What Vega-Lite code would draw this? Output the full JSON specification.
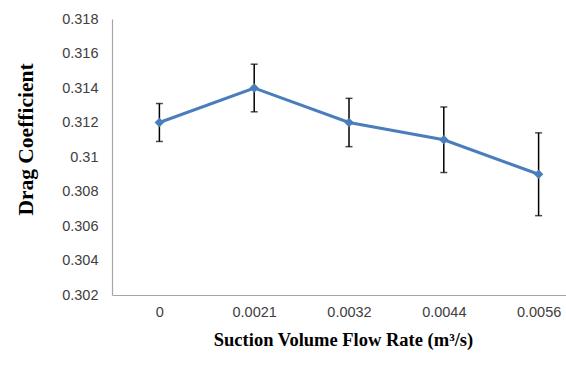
{
  "$schema": "https://vega.github.io/schema/vega-lite/v6.json",
  "autosize": "none",
  "padding": {"left": 112, "top": 19, "right": 0, "bottom": 72},
  "width": 474,
  "height": 276,
  "background": "white",
  "config": {
    "view": {"stroke": null},
    "axis": {
      "labelFont": "Liberation Sans", "labelColor": "#404040",
      "labelOverlap": false, "labelBound": false, "ticks": false,
      "domainColor": "#a6a6a6", "domainWidth": 1.2, "grid": false,
      "titleFont": "Liberation Serif", "titleFontWeight": "bold", "titleColor": "#000000"
    }
  },
  "data": {
    "values": [
      {"rate": "0", "cd": 0.312, "lo": 0.3109, "hi": 0.3131},
      {"rate": "0.0021", "cd": 0.314, "lo": 0.31262, "hi": 0.31538},
      {"rate": "0.0032", "cd": 0.312, "lo": 0.3106, "hi": 0.3134},
      {"rate": "0.0044", "cd": 0.311, "lo": 0.3091, "hi": 0.3129},
      {"rate": "0.0056", "cd": 0.309, "lo": 0.3066, "hi": 0.3114}
    ]
  },
  "encoding": {
    "x": {
      "field": "rate", "type": "ordinal", "sort": null,
      "scale": {"type": "point", "padding": 0.5},
      "axis": {
        "title": "Suction Volume Flow Rate (m³/s)", "labelOverlap": false,
        "labelAngle": 0, "labelFontSize": 14.5, "labelPadding": 10,
        "titleFontSize": 18.5, "titlePadding": 12, "titleX": 231
      }
    }
  },
  "layer": [
    {
      "mark": {"type": "rule", "color": "#000000", "strokeWidth": 1.5},
      "encoding": {
        "y": {
          "field": "lo", "type": "quantitative",
          "scale": {"domain": [0.302, 0.318], "zero": false, "nice": false},
          "axis": {
            "title": "Drag Coefficient",
            "values": [0.302, 0.304, 0.306, 0.308, 0.31, 0.312, 0.314, 0.316, 0.318],
            "format": "~g",
            "labelOverlap": false,
            "tickCount": 9,
            "labelFontSize": 14.5, "labelPadding": 14,
            "titleFontSize": 21.5, "titlePadding": 24, "titleY": 120
          }
        },
        "y2": {"field": "hi"}
      }
    },
    {
      "mark": {"type": "tick", "color": "#000000", "orient": "horizontal", "size": 7, "thickness": 1.5},
      "encoding": {"y": {"field": "lo", "type": "quantitative"}}
    },
    {
      "mark": {"type": "tick", "color": "#000000", "orient": "horizontal", "size": 7, "thickness": 1.5},
      "encoding": {"y": {"field": "hi", "type": "quantitative"}}
    },
    {
      "mark": {"type": "line", "color": "#4a7ebb", "strokeWidth": 3},
      "encoding": {"y": {"field": "cd", "type": "quantitative"}}
    },
    {
      "mark": {"type": "point", "shape": "diamond", "filled": true, "color": "#4a7ebb", "opacity": 1, "size": 90},
      "encoding": {"y": {"field": "cd", "type": "quantitative"}}
    }
  ]
}
